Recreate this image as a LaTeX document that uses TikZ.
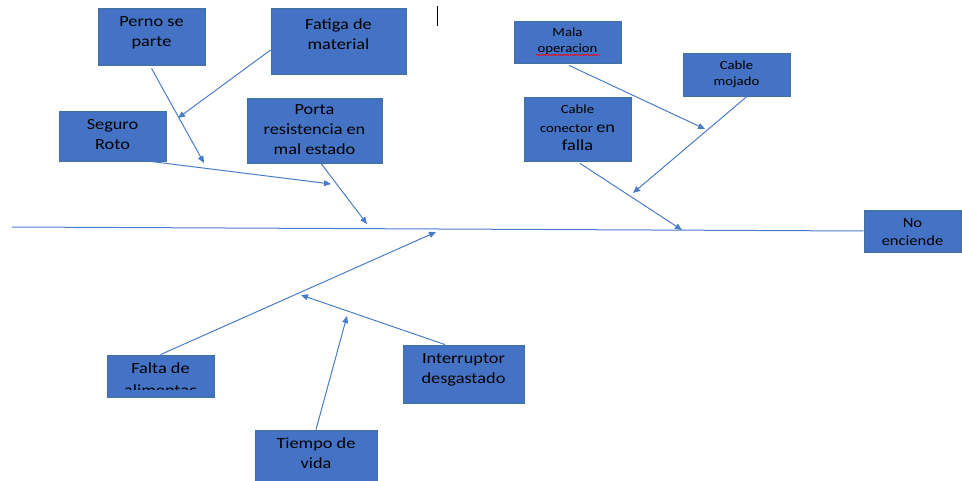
\documentclass[tikz,border=0pt]{standalone}
\usepackage{fontspec}
\setmainfont{Carlito}[FakeStretch=1.18]
\usetikzlibrary{arrows.meta,decorations.pathmorphing}
\definecolor{boxfill}{HTML}{4472C4}
\definecolor{boxline}{HTML}{41719C}
\definecolor{conn}{HTML}{4A7CC9}
\newcommand\bigtxt{\fontsize{15.5}{20}\selectfont}
\newcommand\smalltxt{\fontsize{12.5}{16}\selectfont}
\newcommand\midtxt{\fontsize{14}{18}\selectfont}
\newcommand\boxtext[4]{\begin{minipage}[c][#2][t]{#1}\vspace*{#3}\centering #4\end{minipage}}
\tikzset{
  cause/.style={draw=boxline, fill=boxfill, line width=0.8pt, inner sep=0pt, text=black},
  link/.style={draw=conn, line width=1pt, -{Triangle[length=7pt,width=6pt]}},
  spine/.style={draw=conn, line width=1pt}
}
\begin{document}
\begin{tikzpicture}[x=1pt,y=-1pt]
\useasboundingbox (0,0) rectangle (962,481);
% top-left boxes
\node[cause] (perno) at (151.5,36.5) {\boxtext{107pt}{57pt}{4.7pt}{\bigtxt\strut Perno se\\parte}};
\node[cause] (fatiga) at (338.5,41) {\boxtext{135pt}{66pt}{7.7pt}{\bigtxt\strut Fatiga de\\material}};
\node[cause] (seguro) at (112.5,136) {\boxtext{107pt}{50pt}{4.7pt}{\bigtxt\strut Seguro\\Roto}};
\node[cause] (porta) at (314.5,130.5) {\boxtext{135pt}{65pt}{2.7pt}{\bigtxt\strut Porta\\resistencia en\\mal estado}};
% top-right boxes
\node[cause] (mala) at (567.5,42) {\boxtext{107pt}{42pt}{4.6pt}{\smalltxt\strut Mala\\operacion}};
\node[cause] (mojado) at (736.5,74.5) {\boxtext{107pt}{43pt}{5.6pt}{\smalltxt\strut Cable\\mojado}};
\node[cause] (conector) at (577.5,129) {\boxtext{107pt}{64pt}{3.85pt}{\fontsize{12.5}{18.5}\selectfont\strut Cable\\conector {\bigtxt en}\\{\bigtxt falla}}};
% effect
\node[cause] (noenc) at (912.5,231) {\boxtext{97pt}{42pt}{4.6pt}{\midtxt\strut No\\enciende}};
% bottom boxes
\node[cause] (falta) at (160.5,376) {\boxtext{107pt}{42pt}{4.7pt}{\bigtxt\strut Falta de}};
\begin{scope}
\clip (108,356) rectangle (213,389);
\node[anchor=base, inner sep=0pt, text=black] (faltab) at (160.5,395) {\bigtxt alimentac};
\end{scope}
\node[cause] (inter) at (463.5,374) {\boxtext{121pt}{58pt}{4.7pt}{\bigtxt\strut Interruptor\\desgastado}};
\node[cause] (tiempo) at (316,457.5) {\boxtext{122pt}{55pt}{4.7pt}{\bigtxt\strut Tiempo de\\vida}};
% spell-check underline and text cursor
\draw[red, line width=0.6pt, decorate, decoration={snake,amplitude=0.6pt,segment length=2.5pt}] (536,55) -- (599,55);
\draw[black, line width=1.7pt] (437.5,6) -- (437.5,26);
% end points
\coordinate (spineL) at (12,227);
\coordinate (pE) at (204,163);
\coordinate (fE) at (178,118);
\coordinate (sE) at (331,184);
\coordinate (prE) at (367,224);
\coordinate (malaE) at (705,129);
\coordinate (mojE) at (633,193);
\coordinate (conE) at (682,230);
\coordinate (faltaE) at (436,232);
\coordinate (interE) at (301,295);
\coordinate (tiempoE) at (347,316);
% spine
\draw[spine] (spineL) -- (noenc.west);
% arrows
\draw[link] ([yshift=-3pt]perno.south) -- (pE);
\draw[link] ([yshift=-9pt]fatiga.west) -- (fE);
\draw[link] ([xshift=37.5pt]seguro.south) -- (sE);
\draw[link] ([xshift=6.5pt]porta.south) -- (prE);
\draw[link] ([xshift=1.5pt,yshift=-2pt]mala.south) -- (malaE);
\draw[link] ([xshift=10.5pt]mojado.south) -- (mojE);
\draw[link] ([xshift=2.5pt,yshift=-2pt]conector.south) -- (conE);
\draw[link] (falta.north) -- (faltaE);
\draw[link] ([xshift=-18.5pt]inter.north) -- (interE);
\draw[link] (tiempo.north) -- (tiempoE);
\end{tikzpicture}
\end{document}
